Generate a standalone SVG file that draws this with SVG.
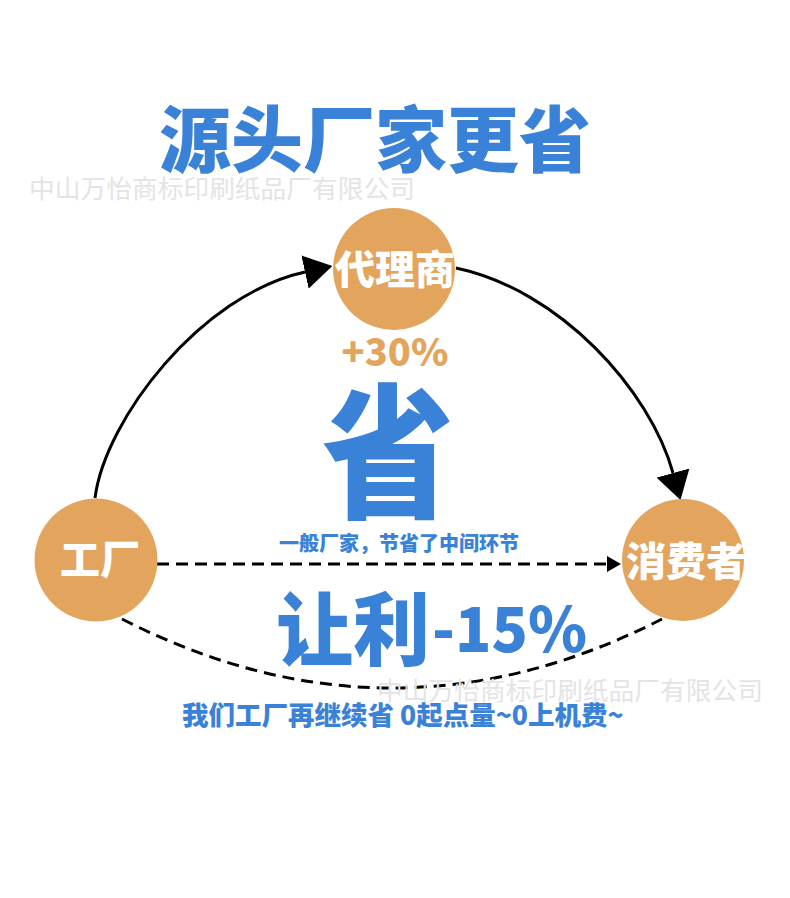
<svg xmlns="http://www.w3.org/2000/svg" width="790" height="898" viewBox="0 0 790 898">
<style>
.cjk{font-family:"Noto Sans CJK SC","Noto Sans",sans-serif}
.blue{fill:#3A82D7;font-weight:900}
.node circle{fill:#E3A55E}
.node text{fill:#fff;font-size:40px;font-weight:900;text-anchor:middle}
.wm{fill:#E4E4E4;font-size:25.5px;font-weight:400}
.solid{fill:none;stroke:#000;stroke-width:3}
.dash{fill:none;stroke:#000;stroke-width:3;stroke-dasharray:12 7}
</style>
<defs>
<marker id="big" markerUnits="userSpaceOnUse" viewBox="0 0 28 34" refX="0" refY="17" markerWidth="28" markerHeight="34" orient="auto">
<path d="M0,0 L28,17 L0,34 Z" fill="#000"/>
</marker>
<marker id="small" markerUnits="userSpaceOnUse" viewBox="0 0 14 16" refX="0" refY="8" markerWidth="14" markerHeight="16" orient="auto">
<path d="M0,0 L14,8 L0,16 Z" fill="#000"/>
</marker>
</defs>
<rect width="790" height="898" fill="#fff"/>
<text class="cjk blue" x="375" y="166" font-size="72" text-anchor="middle">源头厂家更省</text>
<text class="cjk wm" x="29" y="198" textLength="386" lengthAdjust="spacingAndGlyphs">中山万怡商标印刷纸品厂有限公司</text>
<g id="connectors">
<path class="solid" d="M95,498 C105,420 200,295 305,272" marker-end="url(#big)"/>
<path class="solid" d="M456,268 C560,290 650,390 673,473" marker-end="url(#big)"/>
<path class="dash" d="M157,564 L607,564" marker-end="url(#small)"/>
<path class="dash" d="M122,619 Q392,757 662,619"/>
</g>
<g id="node-agent" class="node cjk">
<circle cx="394" cy="269" r="61"/>
<text x="395" y="284">代理商</text>
</g>
<g id="node-factory" class="node cjk">
<circle cx="96" cy="560" r="61.5"/>
<text x="100" y="574">工厂</text>
</g>
<g id="node-consumer" class="node cjk">
<circle cx="683" cy="560" r="61"/>
<text x="686" y="576">消费者</text>
</g>
<text class="cjk" x="395" y="366" font-size="38" font-weight="900" fill="#E3A55E" text-anchor="middle">+30%</text>
<text class="cjk blue" transform="translate(388,507) scale(0.91,1)" x="0" y="0" font-size="145" text-anchor="middle">省</text>
<text class="cjk blue" x="399" y="551" font-size="20" text-anchor="middle">一般厂家，节省了中间环节</text>
<text class="cjk blue" x="276" y="659" font-size="80" textLength="154" lengthAdjust="spacingAndGlyphs">让利</text>
<text class="cjk blue" x="432" y="652" font-size="62" textLength="155" lengthAdjust="spacingAndGlyphs">-15%</text>
<text class="cjk wm" x="377" y="700" textLength="386" lengthAdjust="spacingAndGlyphs">中山万怡商标印刷纸品厂有限公司</text>
<text class="cjk blue" x="182" y="725" font-size="26.5">我们工厂再继续省 0起点量~0上机费~</text>
</svg>
